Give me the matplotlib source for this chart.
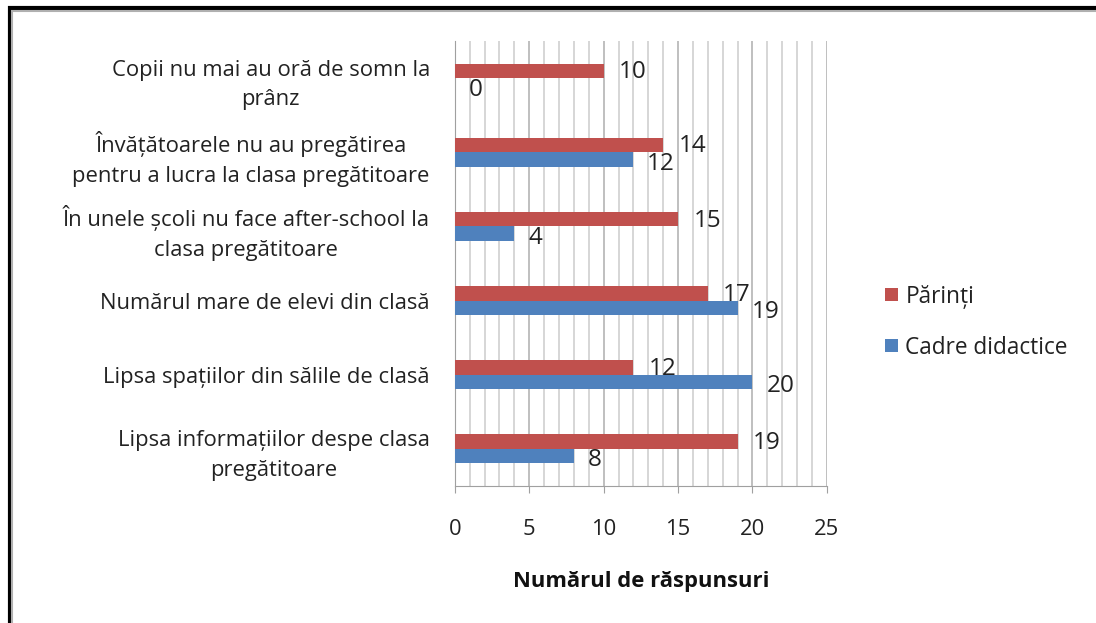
import numpy as np
import matplotlib
matplotlib.use("Agg")
import matplotlib.pyplot as plt
from matplotlib.patches import Rectangle
from matplotlib.ticker import MultipleLocator

# data (top to bottom as in the chart)
categories = [
    "Copii nu mai au oră de somn la\nprânz",
    "Învățătoarele nu au pregătirea\npentru a lucra la clasa pregătitoare",
    "În unele școli nu face after-school la\nclasa pregătitoare",
    "Numărul mare de elevi din clasă",
    "Lipsa spațiilor din sălile de clasă",
    "Lipsa informațiilor despe clasa\npregătitoare",
]
parinti = [10, 14, 15, 17, 12, 19]
cadre = [0, 12, 4, 19, 20, 8]
series_names = ["Părinți", "Cadre didactice"]
xlabel = "Numărul de răspunsuri"

red = "#C0504D"
blue = "#4F81BD"
txt = "#222222"

plt.rcParams['font.family'] = ['Open Sans', 'DejaVu Sans']

fig = plt.figure(figsize=(10.96, 6.23), dpi=100)
ax = fig.add_axes([0.415, 0.22, 0.3394, 0.714])

n = len(categories)
y = np.arange(n)[::-1]
h = 0.196

b1 = ax.barh(y + h / 2, parinti, height=h, color=red, label=series_names[0], zorder=3)
b2 = ax.barh(y - h / 2, cadre, height=h, color=blue, label=series_names[1], zorder=3)

# value labels, Excel style (to the right of bar ends)
for yy, v in zip(y + h / 2, parinti):
    ax.annotate(str(v), (v, yy), xytext=(11, -1), textcoords="offset points",
                ha="left", va="center", fontsize=17.5, color=txt)
for yy, v in zip(y - h / 2, cadre):
    ax.annotate(str(v), (v, yy), xytext=(10, -3), textcoords="offset points",
                ha="left", va="center", fontsize=17.5, color=txt)

ax.set_xlim(0, 25)
ax.set_ylim(-0.5, n - 0.5)
ax.xaxis.set_major_locator(MultipleLocator(5))
ax.xaxis.set_minor_locator(MultipleLocator(1))
ax.grid(axis="x", which="major", color="#b4b4b4", linewidth=1.2, zorder=0)
ax.grid(axis="x", which="minor", color="#cfcfcf", linewidth=1.2, zorder=0)
ax.set_axisbelow(True)

ax.set_yticks(y)
ax.set_yticklabels(categories, fontsize=15.8, color=txt, multialignment="center",
                   linespacing=1.55)
ax.tick_params(axis="y", length=0, pad=18)
ax.tick_params(axis="x", which="major", length=5, color="#a0a0a0", labelsize=15.8,
               labelcolor=txt, pad=19)
ax.tick_params(axis="x", which="minor", length=0)

for s in ["top", "right"]:
    ax.spines[s].set_visible(False)
ax.spines["left"].set_color("#a0a0a0")
ax.spines["bottom"].set_color("#a0a0a0")

ax.set_xlabel(xlabel, fontsize=15.8, fontweight="bold", color="#111111", labelpad=22)

leg = fig.legend(handles=[b1, b2], loc="center left", bbox_to_anchor=(0.789, 0.483),
                 frameon=False, fontsize=16.3, handlelength=0.55, handleheight=0.55,
                 handletextpad=0.35, labelspacing=1.2)
for t in leg.get_texts():
    t.set_color(txt)

# outer frame of the picture
fig.add_artist(Rectangle((9.5 / 1096, -0.1), 1.2, 1.1 - 8.5 / 623,
                         transform=fig.transFigure, fill=False,
                         edgecolor="black", linewidth=3))
fig.add_artist(Rectangle((12 / 1096, -0.1), 1.2, 1.1 - 11.5 / 623,
                         transform=fig.transFigure, fill=False,
                         edgecolor="#b0b0b0", linewidth=1.5))

fig.savefig("out.png", dpi=100)
